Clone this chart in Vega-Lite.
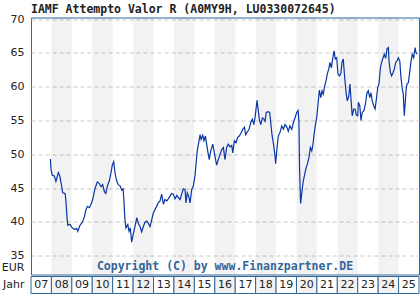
{
"$schema": "https://vega.github.io/schema/vega-lite/v6.json",
"padding": {"left": 0, "top": 3.5, "right": 0, "bottom": 0},
"background": "white",
"title": {"text": "IAMF Attempto Valor R (A0MY9H, LU0330072645)", "anchor": "start", "frame": "group", "font": "DejaVu Sans Mono", "fontSize": 11.5, "fontWeight": "bold", "color": "#222222", "baseline": "alphabetic", "offset": -11.5},
"spacing": 0,
"datasets": {
"years": [
{"year":2007,"to":2008,"label":"07","shade":false},
{"year":2008,"to":2009,"label":"08","shade":true},
{"year":2009,"to":2010,"label":"09","shade":false},
{"year":2010,"to":2011,"label":"10","shade":true},
{"year":2011,"to":2012,"label":"11","shade":false},
{"year":2012,"to":2013,"label":"12","shade":true},
{"year":2013,"to":2014,"label":"13","shade":false},
{"year":2014,"to":2015,"label":"14","shade":true},
{"year":2015,"to":2016,"label":"15","shade":false},
{"year":2016,"to":2017,"label":"16","shade":true},
{"year":2017,"to":2018,"label":"17","shade":false},
{"year":2018,"to":2019,"label":"18","shade":true},
{"year":2019,"to":2020,"label":"19","shade":false},
{"year":2020,"to":2021,"label":"20","shade":true},
{"year":2021,"to":2022,"label":"21","shade":false},
{"year":2022,"to":2023,"label":"22","shade":true},
{"year":2023,"to":2024,"label":"23","shade":false},
{"year":2024,"to":2025,"label":"24","shade":true},
{"year":2025,"to":2026,"label":"25","shade":false}
],
"nav": [
{"t":2007.95,"v":49.3},{"t":2007.98,"v":47.8},{"t":2008.04,"v":46.9},{"t":2008.14,"v":46.8},{"t":2008.22,"v":46.0},{"t":2008.34,"v":47.3},{"t":2008.41,"v":46.8},{"t":2008.50,"v":45.3},{"t":2008.55,"v":44.3},{"t":2008.67,"v":44.2},{"t":2008.71,"v":43.1},{"t":2008.76,"v":40.8},{"t":2008.80,"v":39.5},{"t":2008.91,"v":39.6},
{"t":2009.02,"v":39.1},{"t":2009.12,"v":38.9},{"t":2009.24,"v":39.0},{"t":2009.29,"v":38.6},{"t":2009.40,"v":39.5},{"t":2009.51,"v":39.9},{"t":2009.61,"v":40.7},{"t":2009.69,"v":41.8},{"t":2009.76,"v":42.3},{"t":2009.86,"v":42.1},{"t":2009.94,"v":42.6},
{"t":2010.02,"v":43.3},{"t":2010.13,"v":44.9},{"t":2010.25,"v":45.9},{"t":2010.34,"v":45.7},{"t":2010.43,"v":45.2},{"t":2010.51,"v":45.5},{"t":2010.59,"v":44.5},{"t":2010.66,"v":44.2},{"t":2010.76,"v":45.5},{"t":2010.83,"v":46.0},{"t":2010.92,"v":47.3},{"t":2010.98,"v":48.4},
{"t":2011.05,"v":48.9},{"t":2011.11,"v":47.3},{"t":2011.20,"v":46.0},{"t":2011.28,"v":45.5},{"t":2011.37,"v":45.3},{"t":2011.44,"v":44.7},{"t":2011.51,"v":44.9},{"t":2011.55,"v":43.1},{"t":2011.60,"v":40.3},{"t":2011.65,"v":39.1},{"t":2011.74,"v":39.6},{"t":2011.80,"v":38.6},{"t":2011.86,"v":39.1},{"t":2011.93,"v":37.0},
{"t":2012.01,"v":38.2},{"t":2012.09,"v":39.3},{"t":2012.18,"v":40.6},{"t":2012.25,"v":39.8},{"t":2012.34,"v":39.3},{"t":2012.42,"v":38.5},{"t":2012.50,"v":39.3},{"t":2012.58,"v":39.9},{"t":2012.67,"v":40.1},{"t":2012.74,"v":39.8},{"t":2012.83,"v":39.3},{"t":2012.91,"v":40.3},{"t":2012.99,"v":41.3},
{"t":2013.12,"v":42.1},{"t":2013.23,"v":42.8},{"t":2013.32,"v":43.1},{"t":2013.40,"v":44.1},{"t":2013.48,"v":42.6},{"t":2013.56,"v":43.3},{"t":2013.65,"v":43.1},{"t":2013.72,"v":43.4},{"t":2013.81,"v":43.8},{"t":2013.89,"v":44.2},{"t":2013.97,"v":44.1},
{"t":2014.05,"v":43.4},{"t":2014.14,"v":43.9},{"t":2014.21,"v":43.6},{"t":2014.30,"v":43.3},{"t":2014.38,"v":44.1},{"t":2014.46,"v":44.9},{"t":2014.54,"v":44.8},{"t":2014.59,"v":42.8},{"t":2014.65,"v":44.3},{"t":2014.72,"v":43.8},{"t":2014.79,"v":42.8},{"t":2014.87,"v":44.8},{"t":2014.95,"v":45.3},
{"t":2015.03,"v":46.8},{"t":2015.08,"v":48.5},{"t":2015.14,"v":50.5},{"t":2015.21,"v":51.7},{"t":2015.28,"v":52.9},{"t":2015.33,"v":52.2},{"t":2015.41,"v":52.8},{"t":2015.47,"v":52.0},{"t":2015.54,"v":52.7},{"t":2015.60,"v":51.5},{"t":2015.67,"v":50.2},{"t":2015.73,"v":49.2},{"t":2015.80,"v":50.5},{"t":2015.90,"v":51.5},
{"t":2016.01,"v":49.7},{"t":2016.09,"v":48.4},{"t":2016.17,"v":49.2},{"t":2016.26,"v":50.0},{"t":2016.34,"v":50.7},{"t":2016.42,"v":51.0},{"t":2016.50,"v":49.2},{"t":2016.58,"v":51.0},{"t":2016.66,"v":51.5},{"t":2016.75,"v":51.1},{"t":2016.83,"v":51.3},{"t":2016.88,"v":50.2},{"t":2016.96,"v":52.0},
{"t":2017.04,"v":51.7},{"t":2017.12,"v":52.5},{"t":2017.20,"v":52.7},{"t":2017.28,"v":53.1},{"t":2017.37,"v":53.7},{"t":2017.45,"v":54.0},{"t":2017.51,"v":52.9},{"t":2017.59,"v":53.3},{"t":2017.68,"v":53.7},{"t":2017.76,"v":54.7},{"t":2017.84,"v":55.2},{"t":2017.91,"v":54.4},{"t":2017.97,"v":55.4},
{"t":2018.02,"v":56.7},{"t":2018.07,"v":58.0},{"t":2018.12,"v":56.7},{"t":2018.18,"v":55.2},{"t":2018.25,"v":54.4},{"t":2018.33,"v":55.4},{"t":2018.40,"v":55.2},{"t":2018.46,"v":54.9},{"t":2018.52,"v":56.2},{"t":2018.62,"v":56.3},{"t":2018.69,"v":56.2},{"t":2018.74,"v":54.7},{"t":2018.80,"v":52.9},{"t":2018.89,"v":51.2},{"t":2018.95,"v":49.7},{"t":2018.98,"v":48.6},
{"t":2019.05,"v":51.0},{"t":2019.11,"v":52.7},{"t":2019.19,"v":53.2},{"t":2019.28,"v":54.2},{"t":2019.36,"v":53.7},{"t":2019.44,"v":54.4},{"t":2019.52,"v":54.1},{"t":2019.60,"v":53.4},{"t":2019.68,"v":54.2},{"t":2019.77,"v":53.7},{"t":2019.85,"v":54.7},{"t":2019.93,"v":55.4},
{"t":2020.01,"v":56.2},{"t":2020.08,"v":56.5},{"t":2020.12,"v":54.9},{"t":2020.15,"v":48.0},{"t":2020.20,"v":42.7},{"t":2020.27,"v":44.5},{"t":2020.33,"v":46.0},{"t":2020.40,"v":47.0},{"t":2020.47,"v":48.0},{"t":2020.53,"v":48.5},{"t":2020.61,"v":49.5},{"t":2020.68,"v":51.0},{"t":2020.75,"v":50.5},{"t":2020.81,"v":51.5},{"t":2020.86,"v":52.9},{"t":2020.92,"v":54.2},{"t":2020.99,"v":55.4},
{"t":2021.05,"v":57.2},{"t":2021.12,"v":59.5},{"t":2021.19,"v":58.4},{"t":2021.25,"v":59.4},{"t":2021.31,"v":58.9},{"t":2021.38,"v":60.1},{"t":2021.45,"v":60.9},{"t":2021.51,"v":61.9},{"t":2021.58,"v":62.6},{"t":2021.64,"v":63.6},{"t":2021.71,"v":62.8},{"t":2021.77,"v":64.1},{"t":2021.84,"v":65.3},{"t":2021.90,"v":64.1},{"t":2021.97,"v":64.3},
{"t":2022.03,"v":61.9},{"t":2022.10,"v":61.6},{"t":2022.17,"v":61.9},{"t":2022.23,"v":63.6},{"t":2022.29,"v":64.1},{"t":2022.36,"v":61.4},{"t":2022.43,"v":59.1},{"t":2022.49,"v":57.9},{"t":2022.56,"v":58.6},{"t":2022.62,"v":60.4},{"t":2022.67,"v":58.1},{"t":2022.73,"v":55.7},{"t":2022.80,"v":56.7},{"t":2022.87,"v":56.7},{"t":2022.93,"v":55.8},
{"t":2023.00,"v":55.7},{"t":2023.03,"v":57.7},{"t":2023.10,"v":57.2},{"t":2023.16,"v":55.0},{"t":2023.22,"v":56.2},{"t":2023.31,"v":56.5},{"t":2023.39,"v":57.7},{"t":2023.45,"v":59.1},{"t":2023.52,"v":59.4},{"t":2023.59,"v":58.4},{"t":2023.65,"v":59.1},{"t":2023.71,"v":57.9},{"t":2023.78,"v":57.2},{"t":2023.85,"v":56.7},{"t":2023.91,"v":58.1},{"t":2023.98,"v":59.9},
{"t":2024.04,"v":60.4},{"t":2024.11,"v":62.8},{"t":2024.17,"v":63.6},{"t":2024.24,"v":64.3},{"t":2024.30,"v":64.8},{"t":2024.37,"v":64.2},{"t":2024.43,"v":65.6},{"t":2024.50,"v":65.8},{"t":2024.53,"v":63.8},{"t":2024.60,"v":62.1},{"t":2024.66,"v":61.6},{"t":2024.73,"v":62.1},{"t":2024.79,"v":62.6},{"t":2024.86,"v":63.6},{"t":2024.92,"v":63.8},{"t":2024.99,"v":64.3},
{"t":2025.06,"v":63.8},{"t":2025.11,"v":61.6},{"t":2025.17,"v":59.9},{"t":2025.23,"v":58.9},{"t":2025.28,"v":55.7},{"t":2025.32,"v":57.4},{"t":2025.37,"v":59.6},{"t":2025.41,"v":60.4},{"t":2025.48,"v":60.6},{"t":2025.55,"v":62.3},{"t":2025.61,"v":63.8},{"t":2025.67,"v":64.8},{"t":2025.74,"v":64.3},{"t":2025.81,"v":65.8},{"t":2025.85,"v":65.1},{"t":2025.90,"v":64.8}
]
},
"vconcat": [
{
"width": 388, "height": 257,
"view": {"stroke": "#336699", "strokeWidth": 1},
"layer": [
{"data": {"name": "years"}, "transform": [{"filter": "datum.shade"}],
 "mark": {"type": "rect", "fill": "#000000", "fillOpacity": 0.05},
 "encoding": {"x": {"field": "year", "type": "quantitative", "scale": {"domain": [2007, 2026], "nice": false, "zero": false}, "axis": null}, "x2": {"field": "to"}}},
{"data": {"name": "nav"},
 "mark": {"type": "line", "color": "#0a35a5", "strokeWidth": 1.2},
 "encoding": {
  "x": {"field": "t", "type": "quantitative"},
  "y": {"field": "v", "type": "quantitative", "scale": {"domain": [32.2, 70.25], "nice": false, "zero": false},
   "axis": {"values": [35,40,45,50,55,60,65,70], "tickCount": 20, "labelOverlap": false, "grid": true, "gridDash": [4,3], "gridColor": "#c8c8c8", "ticks": false, "domain": false, "labelPadding": 7, "labelFont": "DejaVu Sans", "labelFontSize": 11, "labelColor": "#222222", "title": "EUR", "titleAngle": 0, "titleAlign": "right", "titleBaseline": "middle", "titleX": -7, "titleY": 250, "titleFont": "DejaVu Sans", "titleFontSize": 11, "titleFontWeight": "normal", "titleColor": "#222222"}}}},
{"data": {"values": [{"note": "Copyright (C) by www.Finanzpartner.DE"}]},
 "mark": {"type": "text", "font": "DejaVu Sans Mono", "fontSize": 11.5, "fontWeight": "bold", "color": "#336699", "baseline": "middle", "align": "center"},
 "encoding": {"x": {"datum": 2016.5}, "y": {"datum": 33.3}, "text": {"field": "note"}}}
]
},
{
"width": 388, "height": 17,
"data": {"name": "years"},
"encoding": {
 "x": {"field": "label", "type": "ordinal", "sort": null, "scale": {"paddingInner": 0, "paddingOuter": 0}, "axis": null},
 "y": {"datum": "Jahr", "type": "nominal", "scale": {"paddingInner": 0, "paddingOuter": 0}, "axis": {"title": null, "ticks": false, "domain": false, "labelPadding": 7, "labelFont": "DejaVu Sans", "labelFontSize": 11, "labelColor": "#222222"}}
},
"layer": [
 {"mark": {"type": "rect", "stroke": "#336699", "strokeWidth": 1}, "encoding": {"fill": {"condition": {"test": "datum.shade", "value": "#f2f2f2"}, "value": "#ffffff"}}},
 {"mark": {"type": "text", "font": "DejaVu Sans", "fontSize": 11, "color": "#222222", "baseline": "middle", "align": "center"}, "encoding": {"text": {"field": "label"}}}
]
}
],
"config": {"view": {"stroke": null}}
}
